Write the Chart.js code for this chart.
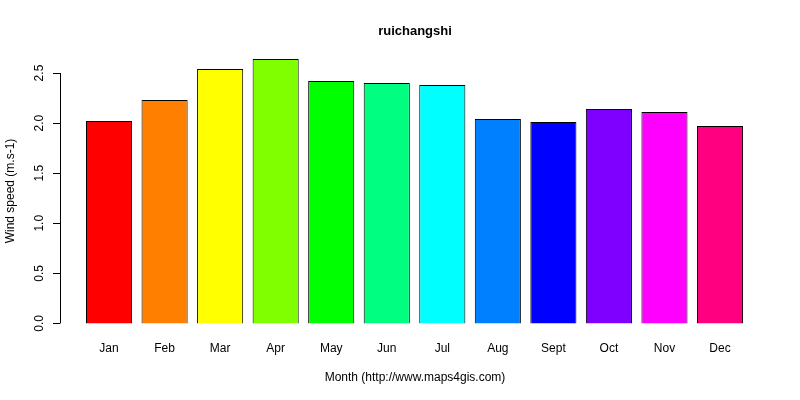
<!DOCTYPE html><html><head><script src="https://cdn.jsdelivr.net/npm/chart.js"></script>
<style>body{margin:0;background:#fff}#w{width:800px;height:400px}</style></head><body><div id="w"><canvas id="c"></canvas></div><script>
const months=["Jan","Feb","Mar","Apr","May","Jun","Jul","Aug","Sept","Oct","Nov","Dec"];
const windSpeed=[2.02,2.23,2.54,2.64,2.42,2.40,2.38,2.04,2.01,2.14,2.11,1.97];
const colors=["#FF0000","#FF8000","#FFFF00","#80FF00","#00FF00","#00FF80","#00FFFF","#0080FF","#0000FF","#8000FF","#FF00FF","#FF0080"];
const yTicks=[0,0.5,1,1.5,2,2.5];
const F='"Liberation Sans", Arial, sans-serif';
const deco={id:'deco',afterDraw(ch){const c=ch.ctx,x=ch.scales.x,y=ch.scales.y,a=ch.chartArea;c.save();c.fillStyle='#000';c.strokeStyle='#000';c.lineWidth=1;
c.font='bold 13px '+F;c.textAlign='center';c.textBaseline='middle';c.fillText('ruichangshi',415,31);
c.font='12px '+F;
c.beginPath();c.moveTo(60.5,y.getPixelForValue(0));c.lineTo(60.5,y.getPixelForValue(2.5));
yTicks.forEach(v=>{const p=Math.round(y.getPixelForValue(v))+0.5;c.moveTo(60,p);c.lineTo(53,p);});c.stroke();
yTicks.forEach(v=>{const p=y.getPixelForValue(v);c.save();c.translate(40,p);c.rotate(-Math.PI/2);c.fillText(v.toFixed(1),0,0);c.restore();});
months.forEach((m,i)=>c.fillText(m,x.getPixelForValue(i),349));
c.fillText('Month (http://www.maps4gis.com)',415,378);
c.save();c.translate(11,191);c.rotate(-Math.PI/2);c.fillText('Wind speed (m.s-1)',0,0);c.restore();
c.restore();}};
new Chart(document.getElementById('c'),{type:'bar',data:{datasets:[{data:windSpeed.map((v,i)=>({x:i,y:v})),backgroundColor:colors,borderColor:'#000',borderWidth:1,barPercentage:0.83,categoryPercentage:1}]},
options:{responsive:true,maintainAspectRatio:false,animation:false,devicePixelRatio:1,layout:{padding:{left:60,right:30,top:48,bottom:66}},
plugins:{legend:{display:false},tooltip:{enabled:false}},
scales:{x:{type:'linear',display:false,offset:false,min:-0.883,max:11.9},y:{display:false,min:-0.106,max:2.75}}},plugins:[deco]});
</script></body></html>
